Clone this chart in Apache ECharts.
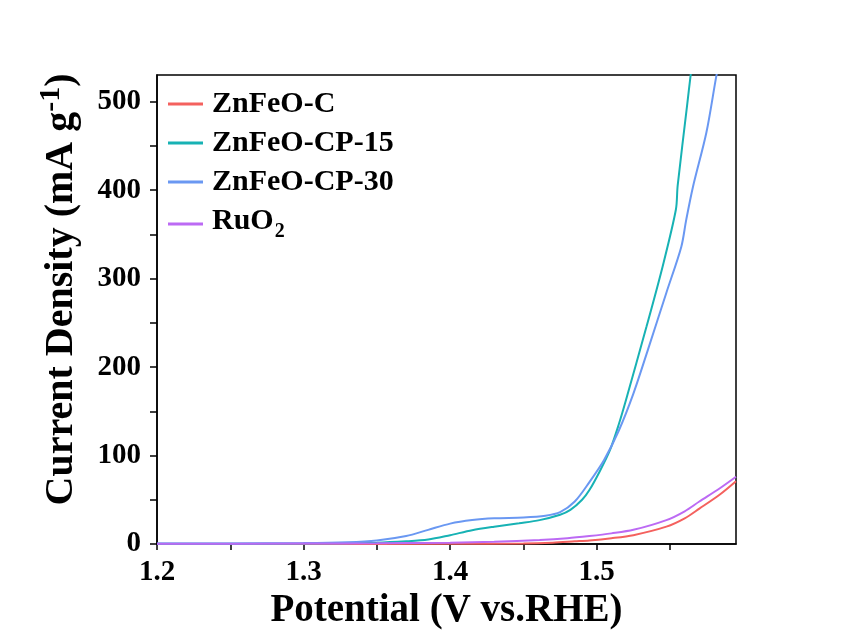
<!DOCTYPE html>
<html>
<head>
<meta charset="utf-8">
<title>OER polarization curves</title>
<script src="https://cdn.jsdelivr.net/npm/echarts@6.0.0/dist/echarts.min.js"></script>
<style>
  html, body { margin: 0; padding: 0; background: #ffffff; }
  #chart { width: 841px; height: 643px; }
</style>
</head>
<body>
<div id="chart"></div>
<script>
// Series names
const seriesNames = ['ZnFeO-C', 'ZnFeO-CP-15', 'ZnFeO-CP-30', 'RuO2'];

// ZnFeO-C
const potentialC = [1.20, 1.30, 1.40, 1.45, 1.47, 1.485, 1.495, 1.51, 1.525, 1.5475, 1.56, 1.57, 1.584, 1.595];
const currentC   = [0.0, 0.0, 0.2, 0.6, 1.5, 3.0, 4.0, 6.5, 10, 19.6, 29, 40, 56, 71];

// ZnFeO-CP-15
const potentialCP15 = [1.20, 1.30, 1.35, 1.37, 1.385, 1.40, 1.415, 1.43, 1.447, 1.461, 1.475, 1.482, 1.49, 1.495, 1.502, 1.509, 1.515, 1.52, 1.534, 1.545, 1.554, 1.5552, 1.5616, 1.564, 1.5665];
const currentCP15   = [0.3, 0.5, 1.5, 3.0, 5.0, 10, 15.5, 19.5, 23.5, 27, 33, 38.5, 50, 61, 82, 106, 135, 163, 246, 314, 378, 405, 495, 529, 560];

// ZnFeO-CP-30
const potentialCP30 = [1.20, 1.25, 1.30, 1.33, 1.35, 1.37, 1.385, 1.40, 1.415, 1.43, 1.45, 1.465, 1.475, 1.485, 1.495, 1.505, 1.515, 1.525, 1.535, 1.5475, 1.5577, 1.561, 1.5657, 1.5748, 1.5816, 1.584];
const currentCP30   = [0.5, 0.6, 1.0, 2.0, 4.0, 9.0, 16, 23, 27, 29, 30, 32, 36, 48, 70, 95, 128, 170, 220, 284, 336, 366, 404, 465, 529, 548];

// RuO2
const potentialRuO2 = [1.20, 1.30, 1.35, 1.40, 1.43, 1.461, 1.48, 1.495, 1.51, 1.525, 1.5475, 1.56, 1.57, 1.584, 1.595];
const currentRuO2   = [0.3, 0.5, 0.8, 1.5, 2.5, 4.5, 6.5, 9.0, 12, 16, 27, 37, 48, 63, 76];

// Axis ticks and labels
const xLabelValues = [1.2, 1.3, 1.4, 1.5];
const xTickValues = [1.2, 1.25, 1.3, 1.35, 1.4, 1.45, 1.5, 1.55];
const yLabelValues = [0, 100, 200, 300, 400, 500];
const yTickValues = [0, 50, 100, 150, 200, 250, 300, 350, 400, 450, 500];

const lineColors = ['#F4615E', '#17B2B4', '#6A98F2', '#BC6AF4'];

const FONT = "'Liberation Serif', 'Times New Roman', serif";

function pairs(xs, ys) {
  return xs.map((x, i) => [x, ys[i]]);
}

const dataSets = [
  pairs(potentialC, currentC),
  pairs(potentialCP15, currentCP15),
  pairs(potentialCP30, currentCP30),
  pairs(potentialRuO2, currentRuO2)
];

const chart = echarts.init(document.getElementById('chart'), null, { renderer: 'canvas' });

chart.setOption({
  animation: false,
  backgroundColor: '#ffffff',
  color: lineColors,
  grid: {
    left: 157, right: 105, top: 75, bottom: 99,
    show: true, borderColor: '#000', borderWidth: 1.5,
    outerBoundsMode: 'none'
  },
  legend: {
    orient: 'vertical',
    left: 163,
    top: 84,
    icon: 'rect',
    itemWidth: 35,
    itemHeight: 3,
    itemGap: 9,
    data: seriesNames,
    formatter: function (name) {
      if (name === 'RuO2') return '{m|RuO}{s|2}';
      return '{b|' + name + '}';
    },
    textStyle: {
      padding: [0, 0, 0, 4],
      rich: {
        b: { fontFamily: FONT, fontWeight: 'bold', fontSize: 30, lineHeight: 30, color: '#000' },
        // main text of a label that carries a subscript
        m: { fontFamily: FONT, fontWeight: 'bold', fontSize: 30, lineHeight: 30, color: '#000', padding: [0, 0, 6, 0] },
        // subscript: top padding pushes the glyph below the baseline of the main text
        s: { fontFamily: FONT, fontWeight: 'bold', fontSize: 20, lineHeight: 20, color: '#000', padding: [16, 0, 0, 1] }
      }
    }
  },
  xAxis: {
    type: 'value',
    min: 1.2,
    max: 1.595,
    name: 'Potential (V vs.RHE)',
    nameLocation: 'middle',
    nameGap: 46,
    nameTextStyle: { fontFamily: FONT, fontWeight: 'bold', fontSize: 39, color: '#000' },
    axisLine: { show: true, onZero: false, lineStyle: { color: '#000', width: 1.5 } },
    axisTick: { show: true, inside: false, length: 6, customValues: xTickValues, lineStyle: { color: '#000', width: 1.5 } },
    axisLabel: {
      customValues: xLabelValues,
      margin: 14,
      formatter: v => v.toFixed(1),
      fontFamily: FONT, fontWeight: 'bold', fontSize: 29, color: '#000'
    },
    splitLine: { show: false }
  },
  yAxis: {
    type: 'value',
    min: 0,
    max: 530,
    name: '{a|Current Density (mA g}{s|-1}{a|)}',
    nameLocation: 'middle',
    nameRotate: 90,
    nameGap: 69,
    nameTextStyle: {
      padding: [0, 0, 0, 40],
      rich: {
        a: { fontFamily: FONT, fontWeight: 'bold', fontSize: 40, lineHeight: 52, color: '#000' },
        s: { fontFamily: FONT, fontWeight: 'bold', fontSize: 30, lineHeight: 30, color: '#000', verticalAlign: 'top' }
      }
    },
    axisLine: { show: true, onZero: false, lineStyle: { color: '#000', width: 1.5 } },
    axisTick: { show: true, inside: false, length: 7, customValues: yTickValues, lineStyle: { color: '#000', width: 1.5 } },
    axisLabel: {
      customValues: yLabelValues,
      margin: 16,
      fontFamily: FONT, fontWeight: 'bold', fontSize: 29, color: '#000'
    },
    splitLine: { show: false }
  },
  series: seriesNames.map((name, i) => ({
    name: name,
    type: 'line',
    data: dataSets[i],
    smooth: 0.3,
    showSymbol: false,
    symbol: 'none',
    clip: true,
    lineStyle: { width: 2, color: lineColors[i] },
    itemStyle: { color: lineColors[i] }
  }))
});
</script>
</body>
</html>
